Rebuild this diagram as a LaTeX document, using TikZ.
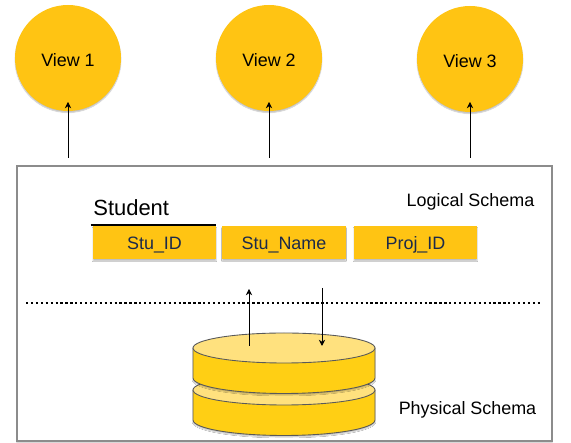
\documentclass[tikz,border=0pt]{standalone}
\usepackage{fontspec}
\setmainfont{Liberation Sans}
\usepackage{xcolor}
\usetikzlibrary{arrows.meta,positioning,shadows.blur}
\definecolor{amber}{HTML}{FFC413}
\definecolor{disk}{HTML}{FFCF14}
\definecolor{disktop}{HTML}{FFE17E}
\definecolor{ink}{HTML}{1C2A4A}
\tikzset{
  softshade/.style={blur shadow={shadow xshift=0pt,shadow yshift=-0.9pt,shadow blur steps=4,shadow blur radius=0.5pt,shadow opacity=25}},
  viewc/.style={circle,fill=amber,minimum size=21.2mm,inner sep=0pt,font=\fontsize{10.2}{12}\selectfont,text height=9.4pt,text depth=0pt,softshade},
  fieldb/.style={fill=amber,minimum width=24.6mm,minimum height=6.6mm,inner sep=0pt,font=\fontsize{10.2}{12}\selectfont,text=ink,text height=9.4pt,text depth=1.5pt,softshade},
  schema/.style={draw=black!45,fill=white,line width=0.7pt,minimum width=107mm,minimum height=55mm,inner sep=0pt,softshade},
  lbl/.style={font=\fontsize{10.2}{12}\selectfont,inner sep=0pt},
  arr/.style={-{Stealth[length=1.25mm,width=1.25mm]},line width=0.5pt,color=black},
  disko/.style={draw=black!65,line width=0.5pt},
}
\begin{document}
\begin{tikzpicture}
\useasboundingbox (0,0) rectangle (11.42,8.86);
\node[schema] (schemabox) at (5.69,2.79) {};
\node[viewc] (v1) at (1.36,7.70) {View 1};
\node[viewc] (v2) at (5.38,7.70) {View 2};
\node[viewc] (v3) at (9.40,7.68) {View 3};
\coordinate (s1) at (1.36,5.70);
\coordinate (s2) at (5.38,5.70);
\coordinate (s3) at (9.40,5.70);
\coordinate (e1) at (1.36,6.82);
\coordinate (e2) at (5.38,6.82);
\coordinate (e3) at (9.40,6.82);
\foreach \n in {1,2,3} \draw[arr] (s\n)--(e\n);
\node[lbl,font=\fontsize{12.5}{14}\selectfont,anchor=west] (tname) at (1.86,4.70) {Student};
\node[fieldb] (f1) at (3.09,4.00) {Stu\_ID};
\node[fieldb] (f2) at (5.68,4.00) {Stu\_Name};
\node[fieldb] (f3) at (8.31,4.00) {Proj\_ID};
\draw[line width=1.1pt] (f1.north west)++(-0.04,0.02) coordinate (t1) -- (f1.north east|-t1) coordinate (t2);
\node[lbl] (logical) at (9.41,4.83) {Logical Schema};
\node[lbl] (physical) at (9.35,0.67) {Physical Schema};
\coordinate (d1) at (0.52,2.80);
\coordinate (d2) at (10.80,2.80);
\draw[line width=1.2pt,dash pattern=on 1.3pt off 1.5pt] (d1)--(d2);
% lower disk, then upper disk
\path[disko,fill=disk,softshade] (3.86,1.06) -- (3.86,0.46) arc[start angle=180,end angle=360,x radius=1.82,y radius=0.31] -- (7.50,1.06) -- cycle;
\draw[disko,fill=disktop] (5.68,1.06) ellipse[x radius=1.82,y radius=0.30];
\path[disko,fill=disk,softshade] (3.86,1.90) -- (3.86,1.30) arc[start angle=180,end angle=360,x radius=1.82,y radius=0.31] -- (7.50,1.90) -- cycle;
\draw[disko,fill=disktop] (5.68,1.90) ellipse[x radius=1.82,y radius=0.30];
\coordinate (u1) at (4.98,1.94);
\coordinate (u2) at (4.98,3.08);
\coordinate (w1) at (6.44,3.10);
\coordinate (w2) at (6.44,1.94);
\draw[arr] (u1)--(u2);
\draw[arr] (w1)--(w2);
\end{tikzpicture}
\end{document}
